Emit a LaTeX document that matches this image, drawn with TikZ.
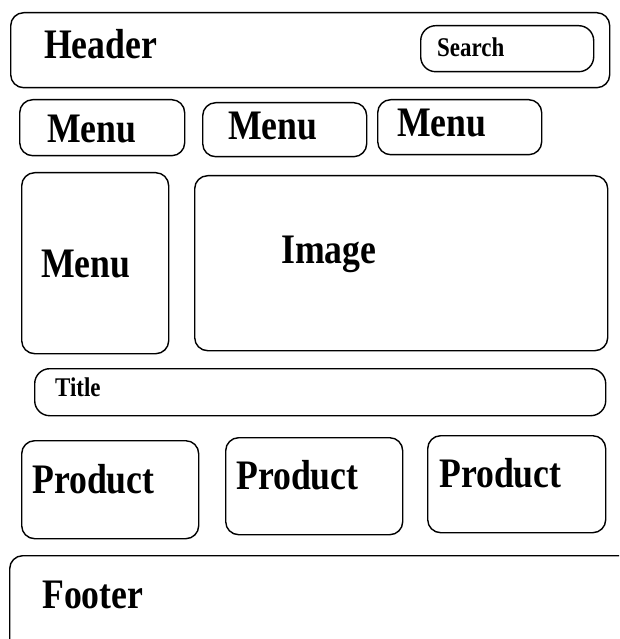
\documentclass[tikz,border=0pt]{standalone}
\usepackage{fontspec}
\usepackage{tikz}
\usetikzlibrary{positioning}
\newfontfamily\lblfont{Liberation Serif}[FakeStretch=0.85]

\begin{document}
\begin{tikzpicture}[
    x=1pt, y=-1pt,
    box/.style={rectangle, draw=black, line width=1.4pt, rounded corners=13pt,
                anchor=north west, inner sep=0pt},
    biglbl/.style={anchor=base west, inner sep=0pt, font=\lblfont\bfseries\fontsize{42}{44}\selectfont},
    smalllbl/.style={anchor=base west, inner sep=0pt, font=\lblfont\bfseries\fontsize{27}{29}\selectfont}
]
    \useasboundingbox (0,0) rectangle (619,639);
    \clip (0,0) rectangle (619,639);

    % header row
    \node[box, minimum width=599pt, minimum height=75pt] (header) at (10,12) {};
    \node[box, minimum width=173pt, minimum height=46pt, rounded corners=15pt] (search) at (420,25) {};
    \node[biglbl] (headertxt) at (44,59) {Header};
    \node[smalllbl] (searchtxt) at (437,57) {Search};

    % menu row
    \node[box, minimum width=165pt, minimum height=56pt] (menuA) at (19,99) {};
    \node[box, minimum width=164pt, minimum height=54pt] (menuB) at (202,102) {};
    \node[box, minimum width=164pt, minimum height=55pt] (menuC) at (377,99) {};
    \node[biglbl] (menuAtxt) at (47,143) {Menu};
    \node[biglbl] (menuBtxt) at (228,140) {Menu};
    \node[biglbl] (menuCtxt) at (397,137) {Menu};

    % side menu and image
    \node[box, minimum width=147pt, minimum height=181pt] (sidemenu) at (21,172) {};
    \node[box, minimum width=413pt, minimum height=175pt] (image) at (194,175) {};
    \node[biglbl] (sidemenutxt) at (41,277) {Menu};
    \node[biglbl] (imagetxt) at (281,263) {Image};

    % title
    \node[box, minimum width=571pt, minimum height=47pt, rounded corners=15pt] (title) at (34,368) {};
    \node[smalllbl] (titletxt) at (55,396) {Title};

    % products
    \node[box, minimum width=177pt, minimum height=98pt] (prodA) at (21,440) {};
    \node[box, minimum width=177pt, minimum height=97pt] (prodB) at (225,437) {};
    \node[box, minimum width=178pt, minimum height=97pt] (prodC) at (427,435) {};
    \node[biglbl] (prodAtxt) at (32,493) {Product};
    \node[biglbl] (prodBtxt) at (236,489) {Product};
    \node[biglbl] (prodCtxt) at (439,487) {Product};

    % footer, runs off the page
    \node[box, minimum width=650pt, minimum height=110pt] (footer) at (9,555) {};
    \node[biglbl] (footertxt) at (42,608) {Footer};
\end{tikzpicture}
\end{document}
